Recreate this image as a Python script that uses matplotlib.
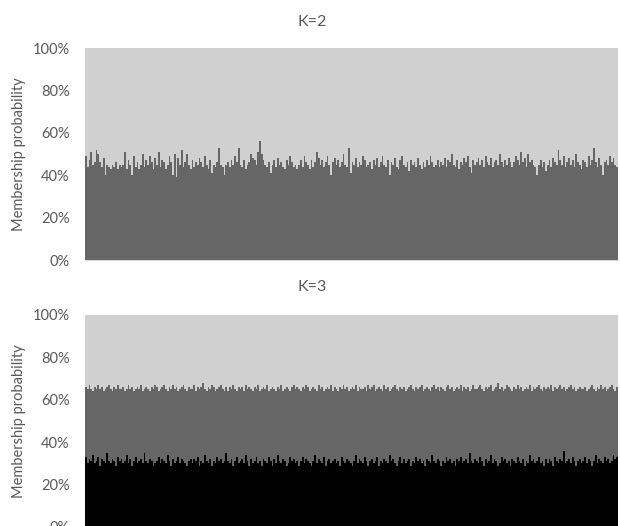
import numpy as np
import matplotlib
matplotlib.use("Agg")
import matplotlib.pyplot as plt
from matplotlib.ticker import PercentFormatter

plt.rcParams['font.family'] = ['Lato', 'DejaVu Sans']
plt.rcParams['font.size'] = 10.5

# K=2: membership (%) in cluster 1 (dark), cluster 2 is the rest
k2_c1 = [
    49, 44, 47, 51, 45, 46, 52, 50, 46, 44, 48, 40, 45, 44, 43, 45, 44, 46, 43, 45,
    44, 45, 51, 43, 47, 45, 40, 49, 44, 46, 43, 45, 50, 44, 47, 45, 49, 46, 43, 48,
    45, 51, 44, 47, 46, 43, 45, 49, 46, 40, 50, 39, 48, 45, 52, 44, 46, 50, 45, 43,
    47, 44, 46, 45, 48, 46, 44, 49, 45, 43, 47, 41, 45, 44, 46, 53, 45, 44, 40, 45,
    46, 44, 47, 45, 49, 46, 53, 45, 44, 47, 43, 45, 46, 50, 48, 47, 45, 51, 56, 50,
    47, 45, 44, 46, 41, 45, 47, 44, 48, 45, 46, 44, 43, 47, 45, 49, 46, 44, 45, 43,
    45, 47, 44, 49, 46, 45, 43, 47, 44, 46, 51, 48, 45, 47, 44, 46, 49, 45, 40, 46,
    48, 45, 47, 44, 46, 50, 45, 44, 53, 41, 46, 45, 48, 44, 46, 45, 49, 47, 44, 45,
    46, 43, 47, 45, 48, 44, 46, 49, 45, 44, 47, 40, 46, 45, 48, 44, 43, 47, 49, 45,
    44, 46, 42, 47, 45, 46, 44, 48, 45, 43, 46, 44, 47, 45, 49, 46, 44, 45, 47, 44,
    46, 45, 48, 44, 47, 46, 50, 45, 44, 47, 43, 46, 45, 48, 46, 49, 44, 41, 47, 45,
    46, 48, 45, 47, 44, 49, 46, 45, 48, 44, 46, 47, 45, 50, 46, 44, 47, 45, 48, 46,
    44, 46, 49, 47, 45, 51, 46, 48, 44, 50, 46, 47, 45, 44, 40, 45, 47, 44, 46, 42,
    45, 47, 44, 48, 46, 45, 52, 47, 45, 49, 44, 46, 48, 45, 47, 44, 50, 46, 45, 43,
    47, 46, 44, 49, 45, 47, 53, 46, 44, 48, 45, 40, 46, 47, 45, 49, 46, 48, 45, 44,
]

# K=3: cluster 1 (black, bottom) and cluster 3 (light, top); cluster 2 is the rest
k3_c1 = [
    33, 30, 32, 31, 34, 30, 31, 33, 29, 32, 31, 30, 35, 31, 30, 32, 31, 29, 33, 31,
    32, 30, 31, 34, 30, 32, 29, 31, 33, 30, 31, 32, 30, 35, 31, 30, 32, 31, 29, 30,
    31, 33, 30, 32, 31, 30, 34, 31, 29, 32, 30, 31, 33, 30, 32, 31, 30, 29, 31, 32,
    30, 32, 31, 33, 29, 31, 30, 34, 31, 30, 32, 29, 31, 30, 33, 31, 32, 30, 31, 35,
    31, 30, 32, 29, 31, 33, 30, 31, 32, 30, 34, 31, 29, 32, 30, 31, 33, 30, 31, 29,
    32, 31, 30, 33, 31, 29, 32, 30, 34, 31, 30, 32, 31, 29, 30, 33, 31, 32, 30, 31,
    29, 31, 33, 30, 32, 31, 30, 29, 31, 34, 30, 32, 31, 30, 33, 29, 31, 32, 30, 31,
    32, 30, 31, 29, 33, 31, 30, 32, 31, 30, 29, 31, 34, 30, 32, 31, 30, 33, 31, 29,
    31, 32, 30, 31, 33, 29, 31, 30, 32, 31, 30, 34, 31, 32, 30, 29, 31, 33, 30, 32,
    30, 31, 32, 29, 31, 30, 33, 31, 32, 30, 31, 29, 32, 31, 30, 34, 31, 30, 32, 31,
    29, 31, 30, 33, 31, 32, 30, 31, 29, 32, 31, 33, 30, 31, 32, 30, 35, 31, 30, 32,
    31, 30, 33, 31, 29, 32, 30, 31, 34, 30, 32, 31, 29, 30, 33, 31, 32, 30, 31, 29,
    32, 31, 30, 33, 31, 30, 32, 29, 31, 30, 34, 31, 32, 30, 31, 33, 30, 31, 29, 32,
    30, 32, 31, 29, 33, 31, 30, 32, 31, 36, 30, 31, 32, 30, 33, 31, 29, 31, 32, 30,
    31, 33, 30, 32, 31, 29, 31, 34, 30, 32, 31, 30, 33, 31, 32, 30, 31, 34, 32, 33,
]
k3_c3 = [
    34, 35, 33, 35, 36, 34, 35, 33, 35, 34, 36, 35, 34, 33, 35, 36, 34, 35, 33, 35,
    35, 34, 36, 35, 33, 35, 34, 36, 35, 34, 35, 33, 36, 35, 34, 35, 36, 34, 35, 33,
    34, 36, 35, 34, 33, 35, 36, 34, 35, 33, 35, 34, 36, 35, 34, 33, 35, 36, 34, 35,
    35, 33, 36, 34, 35, 34, 32, 35, 36, 34, 35, 33, 34, 36, 35, 34, 33, 35, 36, 34,
    36, 34, 35, 33, 35, 36, 34, 35, 34, 36, 33, 35, 34, 35, 36, 34, 35, 33, 36, 35,
    34, 35, 33, 36, 35, 34, 35, 36, 34, 35, 33, 36, 35, 34, 35, 36, 34, 33, 35, 34,
    35, 36, 34, 35, 33, 34, 36, 35, 34, 35, 36, 33, 35, 34, 36, 35, 34, 35, 33, 36,
    34, 35, 36, 34, 35, 33, 35, 34, 36, 35, 34, 35, 33, 36, 34, 35, 35, 34, 36, 33,
    35, 34, 33, 36, 35, 34, 35, 36, 33, 35, 34, 36, 35, 34, 33, 35, 36, 34, 35, 34,
    36, 35, 34, 33, 35, 36, 34, 35, 34, 33, 36, 35, 34, 35, 36, 34, 33, 35, 34, 36,
    34, 35, 36, 34, 33, 35, 34, 36, 35, 34, 35, 33, 36, 34, 35, 34, 36, 35, 33, 35,
    35, 34, 33, 35, 36, 34, 35, 34, 33, 36, 35, 34, 32, 35, 34, 36, 35, 33, 34, 35,
    36, 34, 35, 33, 35, 34, 36, 35, 34, 35, 33, 36, 34, 35, 34, 33, 35, 36, 34, 35,
    34, 35, 33, 36, 34, 35, 34, 33, 35, 34, 36, 35, 34, 33, 35, 34, 36, 35, 34, 35,
    35, 34, 36, 35, 34, 33, 35, 36, 34, 35, 33, 35, 34, 36, 35, 34, 33, 35, 36, 34,
]

titles = ["K=2", "K=3"]
ylabel = "Membership probability"

dark = "#666666"
light = "#d0d0d0"
black = "#000000"
txt = "#595959"

k2_c1 = np.array(k2_c1)
k2_c2 = 100 - k2_c1
k3_c1 = np.array(k3_c1)
k3_c3 = np.array(k3_c3)
k3_c2 = 100 - k3_c1 - k3_c3
x = np.arange(len(k2_c1))

fig = plt.figure(figsize=(6.2, 5.26), dpi=100)
W, H = 620, 526
ax1 = fig.add_axes([85 / W, (H - 260) / H, 533 / W, 212 / H])
ax2 = fig.add_axes([85 / W, (H - 527) / H, 533 / W, 212 / H])

ax1.bar(x, k2_c1, width=1.0, color=dark, linewidth=0)
ax1.bar(x, k2_c2, width=1.0, bottom=k2_c1, color=light, linewidth=0)

ax2.bar(x, k3_c1, width=1.0, color=black, linewidth=0)
ax2.bar(x, k3_c2, width=1.0, bottom=k3_c1, color=dark, linewidth=0)
ax2.bar(x, k3_c3, width=1.0, bottom=k3_c1 + k3_c2, color=light, linewidth=0)

for ax in (ax1, ax2):
    ax.set_xlim(-0.5, len(x) - 0.5)
    ax.set_ylim(0, 100)
    ax.set_yticks([0, 20, 40, 60, 80, 100])
    ax.yaxis.set_major_formatter(PercentFormatter(decimals=0))
    ax.set_xticks([])
    ax.tick_params(axis="y", length=0, pad=11, colors=txt, labelsize=10.5)
    for s in ("top", "right", "left"):
        ax.spines[s].set_visible(False)
    ax.spines["bottom"].set_color("#d9d9d9")
    ax.set_ylabel(ylabel, color=txt, fontsize=10.5, labelpad=5)

fig.text(312 / W, 1 - 22 / H, titles[0], ha="center", va="center", color=txt, fontsize=11.5)
fig.text(312 / W, 1 - 287 / H, titles[1], ha="center", va="center", color=txt, fontsize=11.5)

fig.savefig("out.png", dpi=100)
